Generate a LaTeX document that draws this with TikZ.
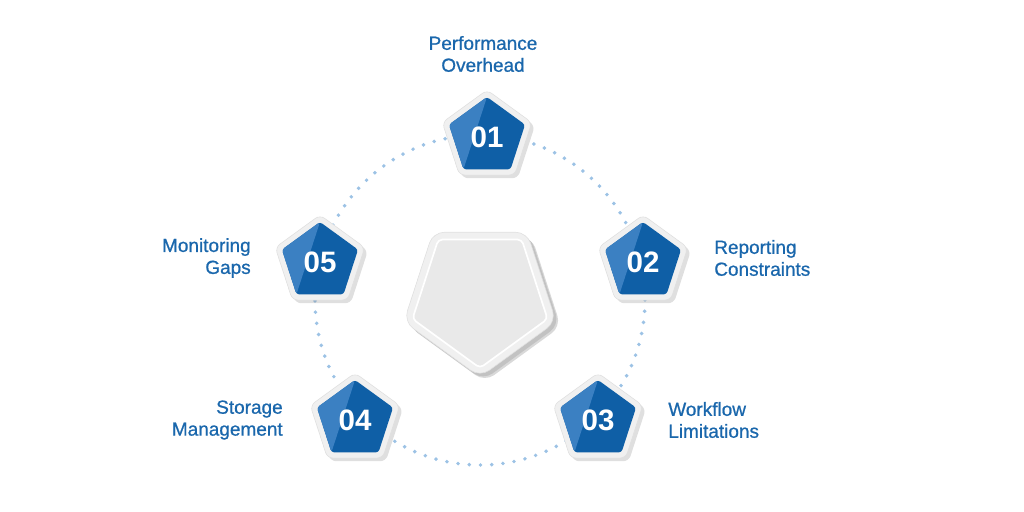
\documentclass[tikz,border=0pt]{standalone}
\usepackage{fontspec}
\setmainfont{Liberation Sans}
\newfontface\lblfont{Liberation Sans}[FakeBold=0.8]
\usetikzlibrary{shapes.geometric,shadows,calc}
\definecolor{bluedark}{HTML}{0F5FA6}
\definecolor{bluelight}{HTML}{3B80C2}
\definecolor{bluetext}{HTML}{1A67AC}
\definecolor{dotblue}{HTML}{9CC2E5}
\definecolor{framegray}{HTML}{F0F0F0}
\definecolor{innergray}{HTML}{E9E9E9}
\tikzset {
  % silver frame round each number
  frame/.style = {
    regular polygon,
    regular polygon sides = 5,
    minimum size = 2.35cm,
    inner sep = 0,
    fill = framegray,
    draw = gray!25,
    line width = 0.4pt,
    rounded corners = 4pt,
    drop shadow = {opacity = 0.25, shadow xshift = 0.08cm, shadow yshift = -0.08cm}
  },
  % blue number badge
  badge/.style = {
    regular polygon,
    regular polygon sides = 5,
    minimum size = 2cm,
    inner sep = 0,
    fill = bluedark,
    rounded corners = 2pt,
    text = white,
    font = \bfseries\fontsize{21}{21}\selectfont,
    path picture = {
      \fill[bluelight] (path picture bounding box.north)
        -- ($(path picture bounding box.south)!0.62!(path picture bounding box.south west)$)
        -- (path picture bounding box.south west)
        -- (path picture bounding box.north west) -- cycle;
    }
  },
  % text beside a badge
  lbl/.style = {
    text = bluetext,
    font = \lblfont\fontsize{13.5}{15.6}\selectfont,
    inner sep = 0
  },
  % dotted ring
  ring/.style = {
    dotblue,
    line width = 2.8pt,
    line cap = round,
    dash pattern = on 0pt off 8pt
  }
}
\begin{document}
\begin{tikzpicture}[x=0.025cm, y=-0.025cm]
    \useasboundingbox (0,0) rectangle (1024,512);

    \coordinate (c) at (480,300);

    % dotted ring
    \draw[ring] (c) circle [radius=165];

    % middle piece
    \node[frame, minimum size=4cm, rounded corners=8pt, shape border rotate=180,
      drop shadow={opacity=0.3, shadow xshift=0.12cm, shadow yshift=-0.12cm}]
      (hub) at (480,297) {};
    \node[regular polygon, regular polygon sides=5, shape border rotate=180,
      minimum size=3.55cm, fill=innergray, draw=white, line width=1.2pt,
      rounded corners=3pt] (hub inner) at (hub) {};

    % badges
    \node[frame] (f1) at (487,137) {};
    \node[badge] (b1) at (f1) {01};
    \node[frame] (f2) at (643,262) {};
    \node[badge] (b2) at (f2) {02};
    \node[frame] (f3) at (598,420) {};
    \node[badge] (b3) at (f3) {03};
    \node[frame] (f4) at (355,420) {};
    \node[badge] (b4) at (f4) {04};
    \node[frame] (f5) at (320,262) {};
    \node[badge] (b5) at (f5) {05};

    % labels
    \node[lbl, align=center] (l1) at (483,54) {Performance\\Overhead};
    \node[lbl, align=left, anchor=west] (l2) at (714,258) {Reporting\\Constraints};
    \node[lbl, align=left, anchor=west] (l3) at (668,420) {Workflow\\Limitations};
    \node[lbl, align=right, anchor=east] (l4) at (283,420) {Storage\\Management};
    \node[lbl, align=right, anchor=east] (l5) at (251,258) {Monitoring\\Gaps};
\end{tikzpicture}
\end{document}
